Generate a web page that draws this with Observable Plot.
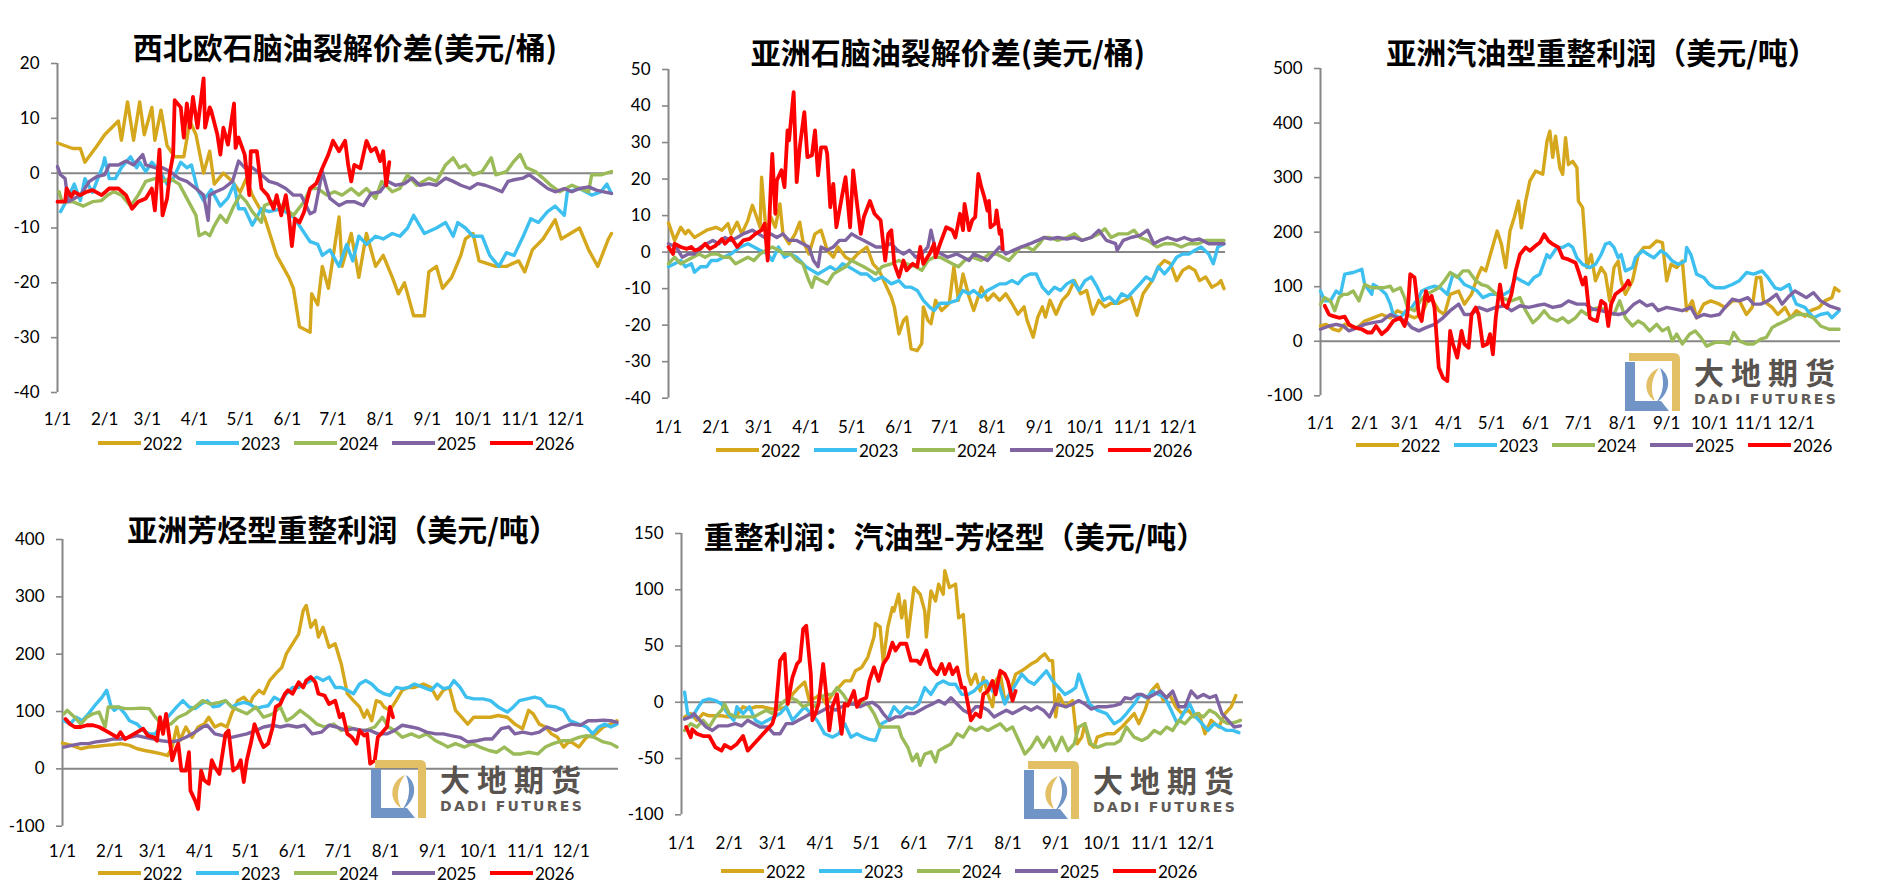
<!DOCTYPE html>
<html><head><meta charset="utf-8">
<script src="https://cdn.jsdelivr.net/npm/d3@7"></script>
<script src="https://cdn.jsdelivr.net/npm/@observablehq/plot@0.6"></script>
<style>
html,body{margin:0;padding:0;background:#fff;}
body{width:1898px;height:896px;position:relative;overflow:hidden;font-family:Lato,sans-serif;}
.title{position:absolute;font-family:"Noto Sans CJK SC",sans-serif;font-weight:700;font-size:30px;line-height:30px;white-space:nowrap;color:#000;transform:translateX(-50%);}
.plot{position:absolute;}
.lg{position:absolute;height:24px;display:flex;align-items:center;white-space:nowrap;}
.lg .sw{display:inline-block;width:43px;height:4.5px;}
.lg .tx{margin-left:2px;font:17px Lato,sans-serif;color:#000;}
.wm-cn{position:absolute;font-family:"Noto Sans CJK SC",sans-serif;font-weight:700;font-size:30px;line-height:30px;letter-spacing:7px;color:#58534e;white-space:nowrap;}
.wm-en{position:absolute;font-family:"DejaVu Sans",sans-serif;font-weight:700;font-size:14px;line-height:14px;letter-spacing:2.3px;color:#605b57;white-space:nowrap;}
</style></head>
<body>
<div id="root"></div>
<script>
// ---------- shared categories ----------
const years = ["2022", "2023", "2024", "2025", "2026"];
const colors = ["#D5A71C", "#3DC0EF", "#9BBB59", "#8064A2", "#FF0000"];
const monthStarts = [0, 31, 59, 90, 120, 151, 181, 212, 243, 273, 304, 334];
const monthLabels = ["1/1","2/1","3/1","4/1","5/1","6/1","7/1","8/1","9/1","10/1","11/1","12/1"];

// ---------- chart 1: 西北欧石脑油裂解价差 (day-of-year, value) ----------
const c1Title = "西北欧石脑油裂解价差(美元/桶)";
const c1Ticks = [-40, -30, -20, -10, 0, 10, 20];
const c1_2022 = [[0,5.5],[5,5],[10,4.5],[15,4.5],[18,2],[26,5],[31,7],[40,9.5],[42,6],[46,13],[50,6],[54,13],[57,7],[62,12],[64,6],[68,11.5],[72,5],[77,3],[83,3],[87,9.5],[91,7],[96,0],[100,4],[103,-2],[109,0],[115,-1.5],[120,-3.5],[124,-1],[128,-4],[136,-8],[144,-15],[152,-19],[155,-21],[159,-28],[166,-29],[167,-22],[171,-24],[174,-17],[178,-21],[185,-8],[187,-17],[193,-11],[198,-19],[203,-11],[209,-17],[214,-15],[220,-19],[224,-22],[228,-20],[234,-26],[241,-26],[244,-18],[249,-17],[253,-21],[259,-19],[265,-15],[268,-12],[273,-11],[277,-16],[288,-17],[295,-17],[303,-16],[307,-18],[312,-14],[319,-12],[327,-8.5],[331,-12],[343,-10],[349,-14],[355,-17],[362,-12],[364,-11]];
const c1_2023 = [[2,-7],[6,-5],[11,-2],[15,-5],[18,-1],[23,-3.5],[30,1.5],[31,2.8],[34,-1],[38,-1],[42,1],[48,3],[52,1],[54,2],[58,0.3],[62,2],[68,0],[72,-2],[76,-1],[81,2],[85,1],[88,1.5],[92,-3],[96,-5],[101,-3],[107,-6],[112,-4.5],[116,-2],[119,-6.5],[123,-6.5],[128,-9.5],[134,-6.5],[139,-7],[147,-6.5],[155,-8],[160,-10],[166,-12.5],[171,-13],[174,-15],[179,-14],[185,-17],[190,-13],[194,-16],[198,-11.5],[203,-13],[209,-11.5],[214,-12],[220,-11],[225,-11.5],[230,-10],[234,-7.7],[241,-11],[249,-10],[255,-9],[260,-11.5],[263,-9],[268,-10],[273,-11.5],[279,-11.5],[284,-15],[290,-17],[295,-14.5],[300,-15],[306,-11.5],[311,-8.3],[316,-9],[322,-7],[327,-6],[333,-7.7],[335,-3.4],[343,-2.8],[351,-4],[357,-3.4],[361,-2],[364,-3.7]];
const c1_2024 = [[1,-3.4],[3,-5.2],[10,-5.2],[17,-6],[23,-5.2],[29,-5],[33,-4],[37,-3.4],[42,-4],[48,-6],[53,-4],[58,-1.5],[64,-1],[69,-1.5],[74,-1],[80,-2],[85,-4.6],[91,-7.7],[93,-11.4],[97,-10.8],[100,-11.4],[103,-9.6],[107,-7.7],[111,-9],[116,-5.9],[120,-4],[124,-5.2],[128,-7],[134,-9],[136,-5.9],[142,-5.2],[147,-5.9],[150,-6.5],[155,-7.7],[162,-5.2],[166,-2.8],[171,-2.8],[177,-4],[182,-3.4],[187,-4],[193,-2.8],[198,-4],[203,-2.8],[209,-4.6],[213,-1.5],[220,-3.4],[225,-2.8],[230,-0.3],[236,-2.2],[244,-0.9],[249,-1.5],[255,1.5],[260,2.8],[264,1],[268,1.5],[273,-0.3],[279,0.3],[285,2.8],[288,-0.3],[295,0.3],[300,2.2],[304,3.4],[308,1],[314,0.3],[319,-0.9],[324,-2.2],[330,-3.4],[338,-2.2],[343,-2.8],[349,-3.4],[351,-0.3],[357,-0.3],[364,0.3]];
const c1_2025 = [[0,1.2],[2,-0.3],[5,-1],[7,-5.2],[11,-4.6],[15,-4],[21,-1.5],[26,-0.6],[31,-0.3],[34,1.5],[40,1.5],[45,2.2],[50,1.5],[56,3.4],[58,1.5],[64,1],[69,1],[74,0.3],[80,-1],[85,-1.5],[91,-2.8],[96,-4],[99,-8.6],[100,-4],[104,-3.4],[109,-2.8],[115,-1.5],[119,2.2],[123,1],[128,1],[134,-0.3],[139,-1.5],[144,-1.9],[150,-2.8],[155,-4],[160,-4],[166,-7.4],[169,-7],[174,0.3],[177,-2.8],[179,-4.6],[185,-5.9],[190,-5.2],[195,-5.2],[201,-5.9],[206,-3.7],[212,-3.4],[217,-1.5],[222,-2.2],[228,-1.9],[233,-0.9],[238,-2.2],[244,-1.9],[249,-2.2],[255,-0.9],[260,-1.5],[265,-2.2],[271,-2.8],[276,-1.9],[281,-2.2],[287,-2.8],[292,-3.4],[296,-1.5],[300,-1.2],[306,-0.9],[310,-0.3],[316,-1.5],[322,-2.8],[327,-3.4],[333,-2.8],[338,-3.4],[343,-2.8],[349,-2.5],[354,-3.1],[359,-3.4],[364,-3.7]];
const c1_2026 = [[0,-5.2],[5,-5.2],[6,-2.8],[9,-4.3],[11,-3.4],[15,-4],[19,-3.4],[23,-3.1],[29,-4],[34,-2.8],[40,-2.8],[45,-4],[49,-6.5],[53,-5.2],[58,-4.6],[62,-2.8],[64,-6.8],[67,4.3],[69,-7.7],[72,-4.6],[74,0.3],[76,3.4],[77,13.3],[81,12],[83,6.5],[85,12.7],[87,8.3],[89,13.9],[92,8.3],[96,17.3],[97,8.3],[100,12],[101,11.4],[105,7.1],[107,3.4],[109,8.3],[112,5.2],[116,12.7],[117,4.6],[119,6.5],[123,3.4],[126,-4],[127,4],[131,4],[134,-2.8],[138,-4],[142,-6.5],[144,-4],[147,-7.7],[150,-4],[152,-7.7],[154,-13.3],[156,-8.3],[159,-9],[162,-7.1],[166,-2.8],[170,-1.9],[174,0.9],[178,3.4],[181,5.9],[185,4],[189,5.9],[191,1.5],[193,-1.5],[195,1.5],[199,0.9],[203,5.9],[206,4],[209,4.6],[212,2.2],[214,4],[216,-2.2],[218,2]];

// ---------- chart 2: 亚洲石脑油裂解价差 ----------
const c2Title = "亚洲石脑油裂解价差(美元/桶)";
const c2Ticks = [-40, -30, -20, -10, 0, 10, 20, 30, 40, 50];
const c2_2022 = [[0,8],[4,3.2],[8,6.8],[11,5],[13,6],[17,4],[21,5],[25,6],[31,6.8],[35,6],[39,7.8],[41,5],[45,8.2],[48,5],[52,8.7],[55,12.8],[57,10.5],[60,6.8],[61,20.5],[64,5],[67,9.6],[70,6.8],[73,13.2],[75,5],[79,2.3],[83,5],[86,8.2],[88,3.2],[92,-0.5],[96,5],[100,6],[104,0.5],[108,-1.4],[111,1.4],[116,-1.4],[120,-2.3],[124,-0.5],[130,1.4],[134,-3.2],[138,-5],[142,-8.7],[146,-12.3],[148,-15],[151,-22.4],[154,-18.7],[156,-17.8],[159,-26.5],[163,-27],[166,-25],[167,-15],[170,-18.7],[172,-19.6],[175,-13.2],[179,-16],[184,-14],[187,-4],[190,-13.2],[193,-6],[197,-12.3],[200,-16],[205,-9.6],[209,-13.2],[213,-11.4],[217,-13.2],[221,-11.4],[225,-14],[229,-17],[233,-15],[235,-18.7],[239,-23.3],[242,-17.8],[245,-15],[247,-17.8],[250,-13.2],[254,-17],[258,-13.2],[262,-11.4],[266,-7.8],[270,-11.4],[274,-10.5],[278,-17],[282,-13.2],[286,-15],[290,-14],[295,-14],[299,-13.2],[303,-12.3],[307,-17.3],[311,-11.4],[317,-7.8],[321,-4],[325,-2.3],[329,-3.2],[333,-7.8],[337,-5],[341,-4],[345,-5],[348,-7.8],[352,-6.8],[356,-9.6],[360,-8.7],[362,-7.8],[364,-10]];
const c2_2023 = [[0,-4],[4,-3.2],[8,-2.3],[11,-4],[15,-3.2],[17,-5.5],[21,-4],[25,-4],[28,-2.3],[32,-2.3],[36,-1.4],[41,-0.5],[47,1.4],[52,2.3],[56,1.4],[60,0.5],[65,-0.5],[68,-2.3],[72,1.4],[76,-1.4],[80,-0.5],[84,-1.4],[90,-4],[94,-5],[98,-6],[102,-5],[106,-4],[110,-5],[114,-3.2],[118,-4],[122,-5],[126,-6],[130,-6],[135,-7.8],[140,-6.8],[146,-8.7],[151,-7.8],[155,-9.6],[159,-9.6],[163,-10.5],[167,-13.2],[171,-15],[174,-16],[178,-14],[183,-14],[189,-13.2],[193,-10.5],[197,-11.4],[200,-10.5],[205,-12.3],[209,-10.5],[213,-9.6],[217,-8.7],[221,-8.7],[225,-7.8],[229,-8.7],[233,-6.8],[237,-6],[241,-6],[245,-9.6],[249,-11.4],[253,-9.6],[257,-10.5],[261,-8.7],[265,-7.8],[269,-10.5],[273,-7.8],[277,-6.8],[281,-9.6],[285,-13.2],[289,-12.3],[293,-14],[297,-11.4],[301,-12.3],[305,-10.5],[309,-8.7],[313,-6.8],[317,-7.8],[321,-4],[325,-6],[329,-4],[333,-1.4],[337,-0.5],[341,-0.5],[345,0.5],[349,1.4],[354,-0.5],[357,-3.2],[360,1.4],[364,2.3]];
const c2_2024 = [[0,-3.2],[4,-1.4],[8,-3.2],[12,-2.3],[16,-1.4],[20,-0.5],[24,-1.4],[28,-0.5],[32,-0.5],[36,-1.4],[40,-1.4],[44,-3.2],[48,-2.3],[52,-1.4],[56,-2.3],[60,-0.5],[64,0.5],[68,1.4],[72,0.5],[76,-0.5],[80,-0.5],[84,-2.3],[88,-3.2],[92,-7.8],[94,-9.6],[96,-6.8],[100,-7.8],[104,-8.7],[108,-6],[112,-5],[116,-4],[120,-2.3],[124,-3.2],[128,-4],[132,-5],[136,-6],[140,-4],[146,-3.2],[151,-2.3],[156,-3.2],[162,-4],[166,-5],[170,-2.3],[174,-1.4],[178,-1.4],[182,-2.3],[186,-3.2],[190,-4],[194,-2.3],[199,-1.4],[205,-2.3],[210,-0.5],[215,-0.5],[219,-1.4],[223,-2.3],[227,-0.5],[231,1.4],[235,1.4],[239,0.5],[243,2.3],[246,4],[250,4],[255,3.2],[261,4],[266,5],[271,3.2],[277,4],[282,5],[286,6.4],[290,4],[295,5],[301,5],[305,6],[309,4],[314,3.2],[320,1.4],[325,2.3],[331,2.3],[336,1.4],[341,2.3],[347,2.3],[352,3.2],[358,3.2],[364,3.2]];
const c2_2025 = [[0,2.3],[5,1.4],[9,-1.4],[13,-0.5],[17,-0.5],[21,1.4],[25,2.3],[29,3.2],[33,2.3],[37,4],[41,3.2],[45,4],[49,5],[55,6],[59,5],[63,4],[67,5],[71,4],[75,5],[79,3.2],[84,3.2],[88,2.3],[92,1.4],[95,-2.3],[98,-4],[100,1.4],[104,0.5],[108,1.4],[112,3.2],[116,3.2],[120,5],[124,4],[128,3.2],[132,2.3],[136,1.4],[140,1.4],[146,2.3],[150,0.5],[154,-0.5],[158,0.5],[162,-1.4],[166,-0.5],[170,1.4],[172,6],[175,0.5],[179,-0.5],[183,-1.4],[189,-0.5],[193,-1.4],[197,-2.3],[200,-0.5],[205,-1.4],[209,-2.3],[213,-0.5],[217,1.4],[221,-0.5],[226,0.5],[231,1.4],[237,2.3],[242,3.2],[246,4],[250,3.6],[255,4],[261,3.6],[266,4],[271,3.2],[277,4],[282,6],[287,3.2],[293,2.3],[294,0.5],[298,3.2],[303,4],[309,4.6],[314,6],[318,2.3],[322,3.2],[327,4],[333,3.2],[338,4],[343,3.2],[348,3.6],[354,2.3],[360,2.3],[364,2.3]];
const c2_2026 = [[0,1.4],[3,-0.5],[4,2.3],[8,1.4],[12,0.9],[15,1.4],[17,0.5],[21,0.9],[24,2.3],[27,0.9],[31,1.8],[35,3.6],[37,2.3],[41,4],[45,1.4],[49,3.2],[53,3.6],[57,5],[61,6],[63,7.8],[65,-2.3],[67,17.8],[68,26.9],[70,10.5],[71,19.6],[74,22.4],[76,17.8],[78,33.3],[79,30.6],[82,43.8],[84,19.2],[86,28.7],[89,38.3],[91,26],[94,26.5],[96,33.3],[98,21],[100,28.7],[103,28.7],[104,26.9],[106,12.3],[108,18.7],[110,6.8],[114,16],[116,20.5],[119,6.8],[121,22.4],[123,15],[126,5],[128,9.6],[132,14],[135,10.5],[139,8.7],[142,-2.3],[144,5],[146,6],[148,-3.2],[151,-6.8],[154,-2.3],[156,-5],[160,-3.2],[163,-4],[165,1.4],[167,-3.2],[171,-0.5],[174,2.3],[175,-1.4],[178,2.3],[182,6.8],[186,6],[188,4],[191,10.5],[193,6],[194,13.2],[197,6],[199,8.7],[201,9.6],[203,21.4],[205,17.8],[207,15],[209,11.4],[210,14],[211,6.8],[214,7.8],[215,11.4],[217,5],[218,6],[219,0.9]];

// ---------- chart 3: 亚洲汽油型重整利润 ----------
const c3Title = "亚洲汽油型重整利润（美元/吨）";
const c3Ticks = [-100, 0, 100, 200, 300, 400, 500];
const c3_2022 = [[0,28],[4,31],[9,22],[13,19],[17,31],[21,28],[26,25],[31,37],[37,43],[43,49],[49,43],[54,56],[60,49],[66,43],[71,49],[76,80],[79,74],[83,56],[87,49],[91,86],[97,92],[101,68],[106,86],[110,117],[113,135],[116,129],[120,166],[124,202],[127,178],[130,135],[133,202],[136,227],[139,257],[141,208],[144,257],[147,294],[151,312],[156,306],[159,367],[161,385],[163,337],[165,376],[168,318],[170,306],[172,373],[174,324],[177,330],[180,318],[181,257],[184,245],[187,135],[190,159],[193,111],[197,135],[200,123],[203,74],[206,135],[209,147],[211,111],[214,86],[219,111],[223,159],[227,172],[231,172],[236,184],[240,181],[243,111],[246,141],[250,135],[254,147],[257,56],[261,74],[264,43],[269,68],[274,74],[280,68],[284,62],[289,74],[294,74],[299,49],[303,62],[306,117],[309,117],[311,74],[317,62],[321,49],[326,62],[330,43],[334,56],[340,46],[344,56],[350,62],[354,74],[359,80],[361,98],[364,92]];
const c3_2023 = [[0,92],[3,74],[7,74],[11,92],[14,86],[17,123],[23,126],[29,132],[31,104],[36,86],[37,104],[41,98],[46,86],[49,68],[51,49],[56,43],[60,56],[64,62],[69,80],[71,92],[76,98],[80,101],[84,98],[89,86],[93,123],[97,117],[101,104],[106,98],[110,92],[114,80],[119,86],[123,86],[129,86],[133,92],[137,117],[141,111],[146,104],[150,117],[154,123],[159,159],[161,153],[166,172],[170,172],[174,178],[177,172],[180,153],[184,141],[189,135],[193,141],[197,159],[200,178],[203,181],[206,172],[209,153],[211,159],[214,129],[219,135],[221,153],[226,166],[230,159],[234,153],[239,166],[243,159],[247,147],[251,141],[256,147],[257,172],[260,159],[264,123],[269,117],[273,104],[277,98],[283,98],[289,104],[294,111],[299,126],[304,123],[310,129],[314,117],[319,98],[323,95],[329,104],[331,86],[334,68],[340,62],[346,43],[351,49],[356,52],[359,43],[364,56]];
const c3_2024 = [[0,68],[3,80],[7,74],[10,56],[13,80],[16,86],[19,86],[23,92],[27,74],[31,104],[36,98],[40,98],[44,98],[49,101],[51,92],[56,98],[59,80],[61,62],[66,56],[70,74],[74,86],[79,92],[83,98],[87,111],[91,126],[96,117],[100,129],[104,129],[109,111],[113,104],[117,101],[121,92],[126,80],[130,77],[134,74],[140,80],[144,56],[149,34],[153,43],[157,56],[161,43],[166,37],[170,43],[174,34],[179,43],[183,56],[187,49],[191,59],[196,62],[200,56],[206,49],[210,74],[214,43],[219,28],[223,37],[227,31],[231,19],[236,31],[240,19],[244,25],[247,0.6],[250,13],[254,-5],[259,13],[263,19],[267,7],[271,-9],[277,-2],[283,-2],[287,-5],[290,16],[294,0.6],[299,-5],[304,-5],[309,4],[313,7],[317,25],[321,31],[326,37],[330,43],[334,49],[340,49],[346,43],[351,28],[357,22],[364,22]];
const c3_2025 = [[0,22],[6,28],[11,31],[16,28],[20,19],[26,25],[31,31],[37,34],[43,37],[49,49],[54,43],[60,37],[64,25],[69,19],[74,25],[80,31],[86,43],[91,56],[97,68],[101,49],[106,49],[111,62],[117,56],[123,62],[129,65],[134,56],[140,65],[146,62],[151,65],[157,68],[163,62],[169,65],[174,74],[180,68],[186,68],[191,59],[197,56],[203,52],[209,49],[214,52],[220,68],[224,74],[229,65],[233,68],[237,56],[243,62],[249,59],[254,56],[260,62],[264,43],[269,49],[274,46],[280,49],[284,62],[289,77],[294,74],[300,80],[304,68],[309,68],[314,74],[320,86],[324,68],[329,83],[333,92],[337,86],[341,80],[346,89],[351,74],[357,65],[364,59]];
const c3_2026 = [[3,65],[6,49],[9,46],[13,43],[17,45],[20,31],[24,25],[29,22],[33,16],[36,16],[39,28],[43,13],[47,22],[51,37],[56,43],[59,28],[61,49],[63,123],[66,117],[69,49],[71,37],[74,92],[76,74],[78,83],[80,62],[83,-48],[86,-67],[89,-73],[91,19],[93,-5],[96,-30],[99,19],[101,-5],[104,-12],[106,49],[109,62],[111,49],[114,-9],[117,-5],[119,13],[121,-24],[123,43],[126,104],[128,68],[131,62],[134,86],[137,129],[140,159],[144,172],[147,166],[151,175],[154,181],[157,196],[160,184],[163,178],[167,172],[170,153],[174,150],[179,144],[181,129],[184,104],[186,117],[189,43],[191,40],[194,37],[197,74],[200,68],[202,28],[204,68],[207,86],[210,92],[213,98],[216,111],[217,104]];

// ---------- chart 4: 亚洲芳烃型重整利润 ----------
const c4Title = "亚洲芳烃型重整利润（美元/吨）";
const c4Ticks = [-100, 0, 100, 200, 300, 400];
const c4_2022 = [[0,45],[6,41],[12,35],[17,38],[22,39],[28,41],[33,42],[38,44],[44,41],[49,35],[54,32],[60,29],[65,26],[69,23],[72,38],[75,73],[77,49],[81,73],[85,55],[89,73],[93,78],[96,90],[100,73],[104,78],[108,73],[111,96],[115,119],[119,125],[123,113],[125,125],[129,137],[132,131],[136,154],[140,166],[144,177],[147,201],[151,218],[155,235],[158,276],[160,285],[163,247],[166,259],[168,230],[171,247],[175,212],[179,218],[183,183],[187,131],[191,119],[195,108],[198,90],[200,102],[203,84],[206,119],[209,116],[211,108],[215,102],[219,119],[223,137],[227,142],[231,142],[237,148],[242,142],[246,122],[250,137],[254,142],[258,102],[262,90],[266,78],[270,90],[276,90],[281,90],[286,93],[292,90],[297,78],[302,70],[306,102],[309,96],[313,78],[317,73],[321,61],[325,55],[329,38],[333,49],[339,38],[344,55],[350,61],[355,73],[360,78],[364,84]];
const c4_2023 = [[1,84],[5,78],[9,90],[13,84],[17,96],[22,113],[26,125],[29,137],[32,108],[34,102],[37,108],[41,96],[44,84],[49,78],[53,67],[57,61],[61,61],[65,78],[71,96],[75,108],[79,119],[83,108],[87,105],[91,113],[95,119],[99,108],[103,110],[107,119],[111,108],[115,113],[119,116],[123,113],[127,105],[131,108],[135,110],[139,125],[143,119],[147,131],[151,142],[155,142],[159,148],[163,154],[167,160],[171,154],[175,160],[179,142],[183,142],[187,137],[191,131],[195,148],[199,154],[203,148],[207,137],[211,131],[215,128],[219,142],[223,140],[227,142],[231,148],[237,142],[242,137],[246,148],[250,140],[254,142],[257,154],[261,142],[265,125],[270,122],[276,122],[281,119],[286,108],[292,99],[296,108],[300,119],[305,122],[310,125],[314,122],[318,110],[324,108],[329,102],[333,84],[339,78],[344,73],[348,61],[352,73],[356,78],[360,73],[364,78]];
const c4_2024 = [[1,96],[3,102],[8,90],[12,78],[16,90],[20,96],[24,99],[28,73],[30,108],[36,108],[41,105],[46,105],[52,106],[57,105],[61,90],[65,78],[71,78],[76,90],[81,96],[87,108],[92,119],[97,113],[103,116],[107,119],[111,108],[116,102],[121,96],[127,108],[132,90],[138,96],[143,108],[147,84],[151,90],[156,102],[162,90],[167,78],[172,73],[178,78],[183,67],[188,73],[194,67],[199,67],[205,73],[210,90],[214,73],[218,67],[223,55],[229,61],[234,55],[239,61],[245,49],[249,44],[253,38],[258,44],[264,38],[269,44],[274,38],[280,32],[285,29],[290,38],[296,26],[301,26],[306,29],[312,26],[317,38],[322,44],[328,49],[333,49],[339,55],[344,58],[349,55],[355,47],[360,44],[364,38]];
const c4_2025 = [[1,38],[6,41],[12,44],[17,44],[22,47],[28,49],[33,52],[38,52],[44,55],[49,58],[54,55],[60,52],[65,49],[71,47],[76,49],[81,55],[87,64],[92,73],[95,76],[100,61],[105,58],[111,55],[116,58],[121,61],[127,67],[132,73],[138,76],[143,73],[148,76],[154,73],[159,76],[164,61],[170,64],[175,76],[180,73],[186,67],[191,70],[197,67],[202,67],[207,61],[213,61],[218,67],[223,76],[229,73],[234,70],[239,64],[245,61],[250,61],[255,58],[261,55],[266,47],[272,49],[277,52],[282,52],[288,70],[293,73],[297,61],[302,64],[308,61],[313,64],[318,73],[324,67],[329,73],[334,78],[340,76],[345,84],[350,84],[355,85],[360,84],[364,81]];
const c4_2026 = [[2,87],[5,78],[8,73],[12,73],[16,76],[20,76],[24,73],[28,67],[32,61],[36,55],[38,64],[41,52],[45,58],[49,64],[53,70],[56,58],[60,55],[62,49],[64,90],[66,61],[68,96],[71,38],[72,15],[74,32],[76,44],[78,-3],[81,-3],[83,29],[84,-38],[87,-55],[89,-70],[91,-3],[93,-20],[96,-26],[98,15],[100,3],[103,-9],[105,26],[107,61],[109,67],[112,-3],[115,3],[117,15],[119,-23],[121,15],[124,49],[126,78],[130,49],[132,38],[135,44],[138,73],[140,108],[143,113],[146,131],[148,137],[151,131],[155,151],[158,142],[160,154],[163,160],[166,151],[168,131],[172,128],[175,113],[179,119],[182,90],[184,96],[187,61],[190,55],[193,44],[195,67],[198,58],[200,61],[202,9],[205,15],[207,55],[210,64],[213,73],[215,108],[217,90]];

// ---------- chart 5: 重整利润：汽油型-芳烃型 ----------
const c5Title = "重整利润：汽油型-芳烃型（美元/吨）";
const c5Ticks = [-100, -50, 0, 50, 100, 150];
const c5_2022 = [[2,-13],[6,-10],[10,-16],[14,-10],[18,-12],[22,-12],[26,-12],[30,-13],[35,-13],[40,-4],[44,-6],[48,-4],[53,-4],[59,-6],[64,-6],[68,-4],[72,7],[76,13],[80,18],[83,1.5],[87,4],[90,7],[94,-1.5],[98,7],[102,13],[106,19],[110,19],[113,28],[117,31],[121,40],[125,58],[126,70],[129,67],[131,36],[134,67],[137,84],[138,81],[141,96],[143,75],[145,90],[147,58],[151,102],[155,96],[158,81],[159,58],[162,99],[165,90],[167,105],[170,96],[171,117],[174,102],[178,105],[180,75],[183,78],[186,25],[188,16],[191,25],[194,10],[196,22],[199,7],[202,-4],[204,19],[207,25],[210,1.5],[213,7],[217,25],[221,28],[227,34],[231,37],[233,40],[236,43],[239,37],[241,37],[243,-13],[245,7],[249,-4],[254,1.5],[257,-37],[260,-31],[262,-19],[265,-37],[268,-40],[270,-31],[276,-28],[281,-28],[286,-22],[290,-16],[294,-10],[297,-19],[301,-7],[305,10],[309,16],[313,1.5],[317,7],[321,-4],[325,-10],[329,-7],[333,-13],[336,-10],[340,-28],[344,-16],[349,-22],[353,-10],[357,-4],[360,6]];
const c5_2023 = [[2,9],[4,-10],[7,-13],[11,-4],[14,1.5],[18,3],[22,1.5],[26,-1.5],[30,-10],[34,-16],[36,-4],[40,-10],[44,-4],[48,-16],[52,-19],[56,-16],[60,-13],[64,-10],[68,-4],[72,-16],[76,-10],[80,-4],[84,-10],[88,-16],[93,-28],[98,-31],[102,-28],[106,-19],[110,-31],[114,-28],[118,-31],[122,-33],[126,-34],[130,-19],[134,-16],[138,-4],[142,-10],[146,-4],[150,-6],[154,-1.5],[158,13],[162,7],[166,16],[170,19],[174,16],[178,16],[182,7],[186,7],[190,10],[194,16],[198,19],[202,10],[206,16],[210,-1.5],[213,7],[217,16],[221,25],[225,19],[229,16],[233,22],[237,28],[241,19],[245,13],[249,7],[253,10],[256,13],[258,25],[261,13],[265,-1.5],[270,-7],[276,-10],[281,-19],[285,-16],[289,-10],[294,-1.5],[298,7],[302,4],[306,10],[310,7],[314,4],[318,-7],[322,-19],[326,-10],[330,-1.5],[334,-13],[338,-19],[342,-25],[346,-19],[350,-22],[354,-25],[358,-25],[362,-27]];
const c5_2024 = [[2,-25],[6,-19],[10,-22],[14,-16],[18,-22],[22,-13],[26,-7],[28,-1.5],[31,-10],[35,-13],[39,-13],[43,-13],[47,-13],[51,-10],[55,-7],[59,-10],[63,-4],[67,1.5],[71,4],[75,1.5],[79,-4],[83,-1.5],[87,-4],[90,4],[94,7],[98,7],[101,13],[105,7],[109,-1.5],[113,-1.5],[117,-1.5],[121,-1.5],[125,-10],[129,-22],[133,-22],[137,-22],[141,-22],[143,-31],[147,-40],[150,-52],[153,-46],[155,-56],[158,-46],[162,-44],[165,-53],[167,-43],[171,-40],[175,-37],[179,-28],[183,-31],[187,-22],[191,-25],[195,-22],[199,-25],[203,-22],[207,-19],[211,-25],[215,-22],[219,-34],[223,-46],[227,-40],[231,-31],[235,-40],[239,-31],[243,-43],[247,-31],[251,-43],[255,-37],[258,-22],[262,-19],[266,-37],[270,-40],[276,-37],[281,-37],[285,-34],[289,-22],[294,-31],[299,-34],[303,-31],[307,-25],[311,-28],[315,-22],[319,-25],[323,-16],[327,-19],[331,-13],[335,-10],[339,-13],[343,-7],[347,-10],[351,-16],[355,-19],[359,-18],[363,-16]];
const c5_2025 = [[2,-15],[6,-13],[8,-10],[12,-16],[16,-22],[20,-25],[24,-21],[30,-21],[35,-19],[39,-21],[43,-16],[47,-19],[51,-22],[56,-22],[60,-28],[64,-28],[68,-19],[72,-19],[76,-16],[80,-13],[84,-10],[88,-10],[92,-7],[96,-4],[100,-7],[104,-4],[108,-1.5],[112,-1.5],[116,-4],[120,-1.5],[124,0],[128,-4],[131,-10],[135,-16],[139,-13],[143,-13],[147,-10],[151,-10],[155,-7],[159,-4],[163,-1.5],[167,1.5],[171,-1.5],[175,4],[179,-1.5],[183,-7],[187,-10],[191,-4],[195,-4],[199,-7],[203,-13],[207,-10],[211,-7],[215,-10],[219,-7],[223,-4],[227,-7],[231,-4],[235,-7],[239,-13],[243,-1.5],[247,-3],[250,-4],[254,-1.5],[258,1.5],[262,-1.5],[266,-6],[270,-4],[276,-4],[281,-3],[285,-1.5],[288,4],[292,3],[296,7],[299,7],[303,4],[307,7],[311,10],[315,4],[319,10],[323,-4],[327,-4],[331,10],[335,4],[339,7],[343,4],[347,6],[351,-10],[355,-16],[359,-22],[363,-21]];
const c5_2026 = [[3,-22],[6,-31],[7,-24],[10,-28],[14,-30],[18,-30],[22,-40],[26,-43],[28,-38],[32,-41],[36,-37],[40,-30],[43,-43],[47,-37],[51,-31],[55,-25],[59,-19],[61,-10],[64,37],[67,43],[69,-1.5],[72,22],[75,34],[77,37],[79,65],[81,68],[84,25],[85,-16],[87,-10],[89,-1.5],[92,34],[94,7],[96,-25],[98,-4],[101,7],[104,-28],[106,-1.5],[108,-3],[112,10],[114,-4],[116,1.5],[120,4],[122,19],[125,31],[128,19],[131,34],[134,40],[137,53],[139,46],[142,52],[146,52],[149,37],[153,37],[155,34],[159,46],[162,31],[166,25],[169,34],[171,25],[174,34],[176,25],[179,31],[182,13],[184,13],[188,-16],[191,-10],[194,-13],[196,7],[199,10],[202,19],[204,7],[207,28],[210,25],[212,19],[215,1.5],[217,10]];

// ---------- layout ----------
const root = document.getElementById("root");
const AXIS = "#868686";

function drawChart(cfg) {
  const padL = 70, padR = 12, padT = 12, padB = 50;
  const W = cfg.R - cfg.L + padL + padR;
  const H = cfg.B - cfg.T + padT + padB;
  const marks = [
    Plot.ruleY([0], {stroke: AXIS, strokeWidth: 2}),
    Plot.ruleX([0], {stroke: AXIS, strokeWidth: 2}),
    Plot.axisY({ticks: cfg.ticks, tickSize: 6, tickPadding: 12, tickFormat: d => String(d),
                stroke: AXIS, strokeWidth: 1.6, fill: "#000", label: null}),
    Plot.axisX({ticks: monthStarts, tickFormat: d => monthLabels[monthStarts.indexOf(d)],
                tickSize: 0, tickPadding: cfg.xPad, fill: "#000", label: null})
  ];
  cfg.series.forEach((pts, i) => {
    marks.push(Plot.line(pts, {x: d => d[0], y: d => d[1], stroke: colors[i],
      strokeWidth: i === 4 ? 3.8 : 3.4, strokeLinejoin: "round", strokeLinecap: "round"}));
  });
  const svg = Plot.plot({
    width: W, height: H,
    marginLeft: padL, marginRight: padR, marginTop: padT, marginBottom: padB,
    x: {domain: [0, 365], label: null},
    y: {domain: [cfg.ticks[0], cfg.ticks[cfg.ticks.length - 1]], label: null},
    style: {background: "transparent", fontFamily: "Lato, sans-serif", fontSize: "17px", color: "#000", overflow: "visible"},
    marks
  });
  svg.classList.add("plot");
  svg.style.left = (cfg.L - padL) + "px";
  svg.style.top = (cfg.T - padT) + "px";
  root.appendChild(svg);

  const t = document.createElement("div");
  t.className = "title";
  t.textContent = cfg.title;
  t.style.left = cfg.tx + "px";
  t.style.top = (cfg.ty - 17) + "px";
  root.appendChild(t);

  years.forEach((yr, i) => {
    const it = document.createElement("div");
    it.className = "lg";
    it.style.left = (cfg.lx + i * 98) + "px";
    it.style.top = (cfg.ly - 12) + "px";
    it.innerHTML = `<span class="sw" style="background:${colors[i]}"></span><span class="tx">${yr}</span>`;
    root.appendChild(it);
  });
}

function watermark(x, y) {
  const ns = "http://www.w3.org/2000/svg";
  const s = document.createElementNS(ns, "svg");
  s.setAttribute("width", 56); s.setAttribute("height", 60);
  s.style.position = "absolute"; s.style.left = (x - 2) + "px"; s.style.top = (y - 2) + "px";
  s.innerHTML = `
    <path d="M4,0 H49 Q55,0 55,6 V58 H47 V8 H4 Z" fill="#E3C066"/>
    <path d="M0,9 H10 V48 H36 L44,58 H0 Z" fill="#6F94C5"/>
    <path d="M34,15 C19,21 17,40 30,48 C25,38 26,25 34,15 Z" fill="#E3C066"/>
    <path d="M35,15 C47,23 46,40 31,50 C39,40 40,27 35,15 Z" fill="#6F94C5"/>`;
  root.appendChild(s);
  const cn = document.createElement("div");
  cn.className = "wm-cn"; cn.textContent = "大地期货";
  cn.style.left = (x + 67) + "px"; cn.style.top = (y + 1) + "px";
  root.appendChild(cn);
  const en = document.createElement("div");
  en.className = "wm-en"; en.textContent = "DADI FUTURES";
  en.style.left = (x + 67) + "px"; en.style.top = (y + 37) + "px";
  root.appendChild(en);
}

drawChart({L: 56.5, R: 612, T: 62.7, B: 391.7, ticks: c1Ticks, xPad: 20, title: c1Title, tx: 345, ty: 48, lx: 98, ly: 443,
  series: [c1_2022, c1_2023, c1_2024, c1_2025, c1_2026]});
drawChart({L: 668, R: 1225, T: 69, B: 397.7, ticks: c2Ticks, xPad: 23, title: c2Title, tx: 948, ty: 53, lx: 716, ly: 450,
  series: [c2_2022, c2_2023, c2_2024, c2_2025, c2_2026]});
drawChart({L: 1320, R: 1840, T: 67.7, B: 395, ticks: c3Ticks, xPad: 21, title: c3Title, tx: 1602, ty: 53, lx: 1356, ly: 445,
  series: [c3_2022, c3_2023, c3_2024, c3_2025, c3_2026]});
drawChart({L: 62, R: 618, T: 539, B: 825.7, ticks: c4Ticks, xPad: 19, title: c4Title, tx: 343, ty: 530, lx: 98, ly: 873,
  series: [c4_2022, c4_2023, c4_2024, c4_2025, c4_2026]});
drawChart({L: 681, R: 1243, T: 532.7, B: 814, ticks: c5Ticks, xPad: 22, title: c5Title, tx: 955, ty: 537, lx: 721, ly: 871,
  series: [c5_2022, c5_2023, c5_2024, c5_2025, c5_2026]});

watermark(1627, 355);
watermark(373, 762);
watermark(1026, 763);
</script>
</body></html>
